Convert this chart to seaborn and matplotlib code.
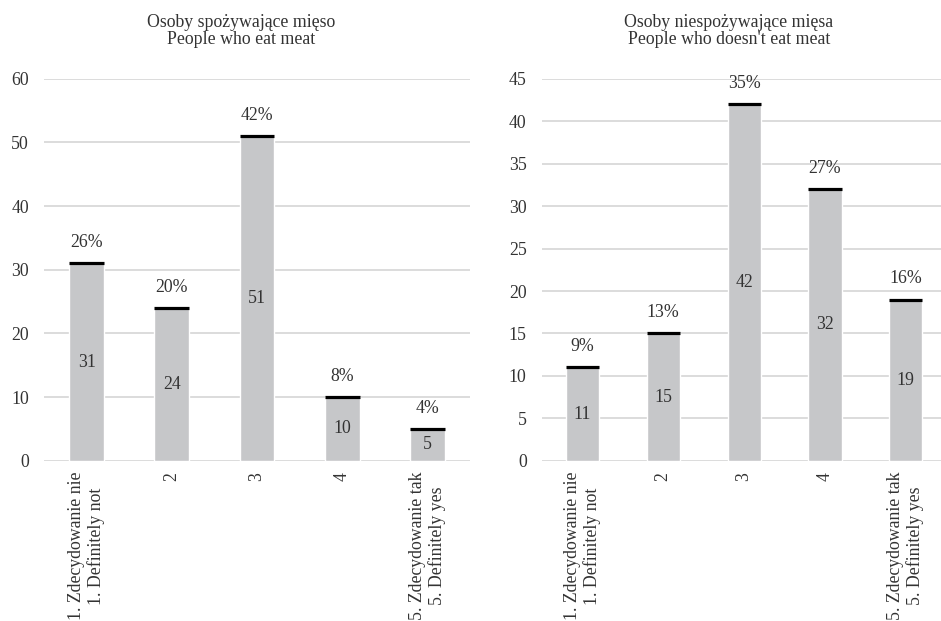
import matplotlib
matplotlib.use("Agg")
import matplotlib.pyplot as plt
import seaborn as sns
import pandas as pd

# Answer categories (Polish / English)
categories = [
    "1. Zdecydowanie nie\n1. Definitely not",
    "2",
    "3",
    "4",
    "5. Zdecydowanie tak\n5. Definitely yes",
]

# Respondent counts and shares per group
meat_counts = [31, 24, 51, 10, 5]
meat_pct = ["26%", "20%", "42%", "8%", "4%"]
nomeat_counts = [11, 15, 42, 32, 19]
nomeat_pct = ["9%", "13%", "35%", "27%", "16%"]

titles = [
    "Osoby spożywające mięso\nPeople who eat meat",
    "Osoby niespożywające mięsa\nPeople who doesn't eat meat",
]
y_limits = [(0, 60, 10), (0, 45, 5)]

sns.set_theme(style="white")
plt.rcParams["font.family"] = ["Liberation Serif", "DejaVu Serif"]

BAR = "#C6C7C9"
GRID = "#D9D9D9"
TXT = "#333333"
FS = 12.8

fig = plt.figure(figsize=(9.41, 6.21), dpi=100)
ax_left = fig.add_axes([0.04697, 0.2581, 0.4522, 0.6151])
ax_right = fig.add_axes([0.5759, 0.2581, 0.4297, 0.6147])

groups = [
    (ax_left, meat_counts, meat_pct, titles[0], y_limits[0]),
    (ax_right, nomeat_counts, nomeat_pct, titles[1], y_limits[1]),
]

for ax, counts, pcts, title, (lo, hi, step) in groups:
    df = pd.DataFrame({"category": categories, "count": counts})
    sns.barplot(data=df, x="category", y="count", order=categories,
                color=BAR, saturation=1, width=0.41, ax=ax)
    ax.set_axisbelow(True)
    ax.set_xlim(-0.5, 4.5)
    ax.set_ylim(lo, hi)
    ax.set_yticks(range(lo, hi + 1, step))
    ax.yaxis.grid(True, color=GRID, linewidth=1.3)
    ax.xaxis.grid(False)
    for s in ax.spines.values():
        s.set_visible(False)
    ax.set_xlabel("")
    ax.set_ylabel("")
    ax.tick_params(axis="y", length=0, pad=11, labelsize=FS, labelcolor=TXT)
    ax.tick_params(axis="x", length=0, pad=8, labelsize=FS, labelcolor=TXT)
    for lab in ax.get_xticklabels():
        lab.set_rotation(90)
        lab.set_ha("center")
        lab.set_va("top")
        lab.set_multialignment("center")
        lab.set_linespacing(1.17)

    for patch, n, pct in zip(ax.patches, counts, pcts):
        x0 = patch.get_x()
        w = patch.get_width()
        h = patch.get_height()
        cx = x0 + w / 2
        # black cap on top of each bar
        ax.hlines(h, x0, x0 + w, color="black", linewidth=2.3, zorder=3)
        ax.text(cx, h / 2, f"{n}", ha="center", va="center",
                fontsize=FS, color=TXT, zorder=4)
        ax.annotate(pct, (cx, h), xytext=(0, 15), textcoords="offset points",
                    ha="center", va="center", fontsize=FS, color=TXT)

    ax.set_title(title, x=0.462, pad=25, fontsize=FS, color=TXT,
                 linespacing=1.02)

fig.savefig("out.png", dpi=100)
